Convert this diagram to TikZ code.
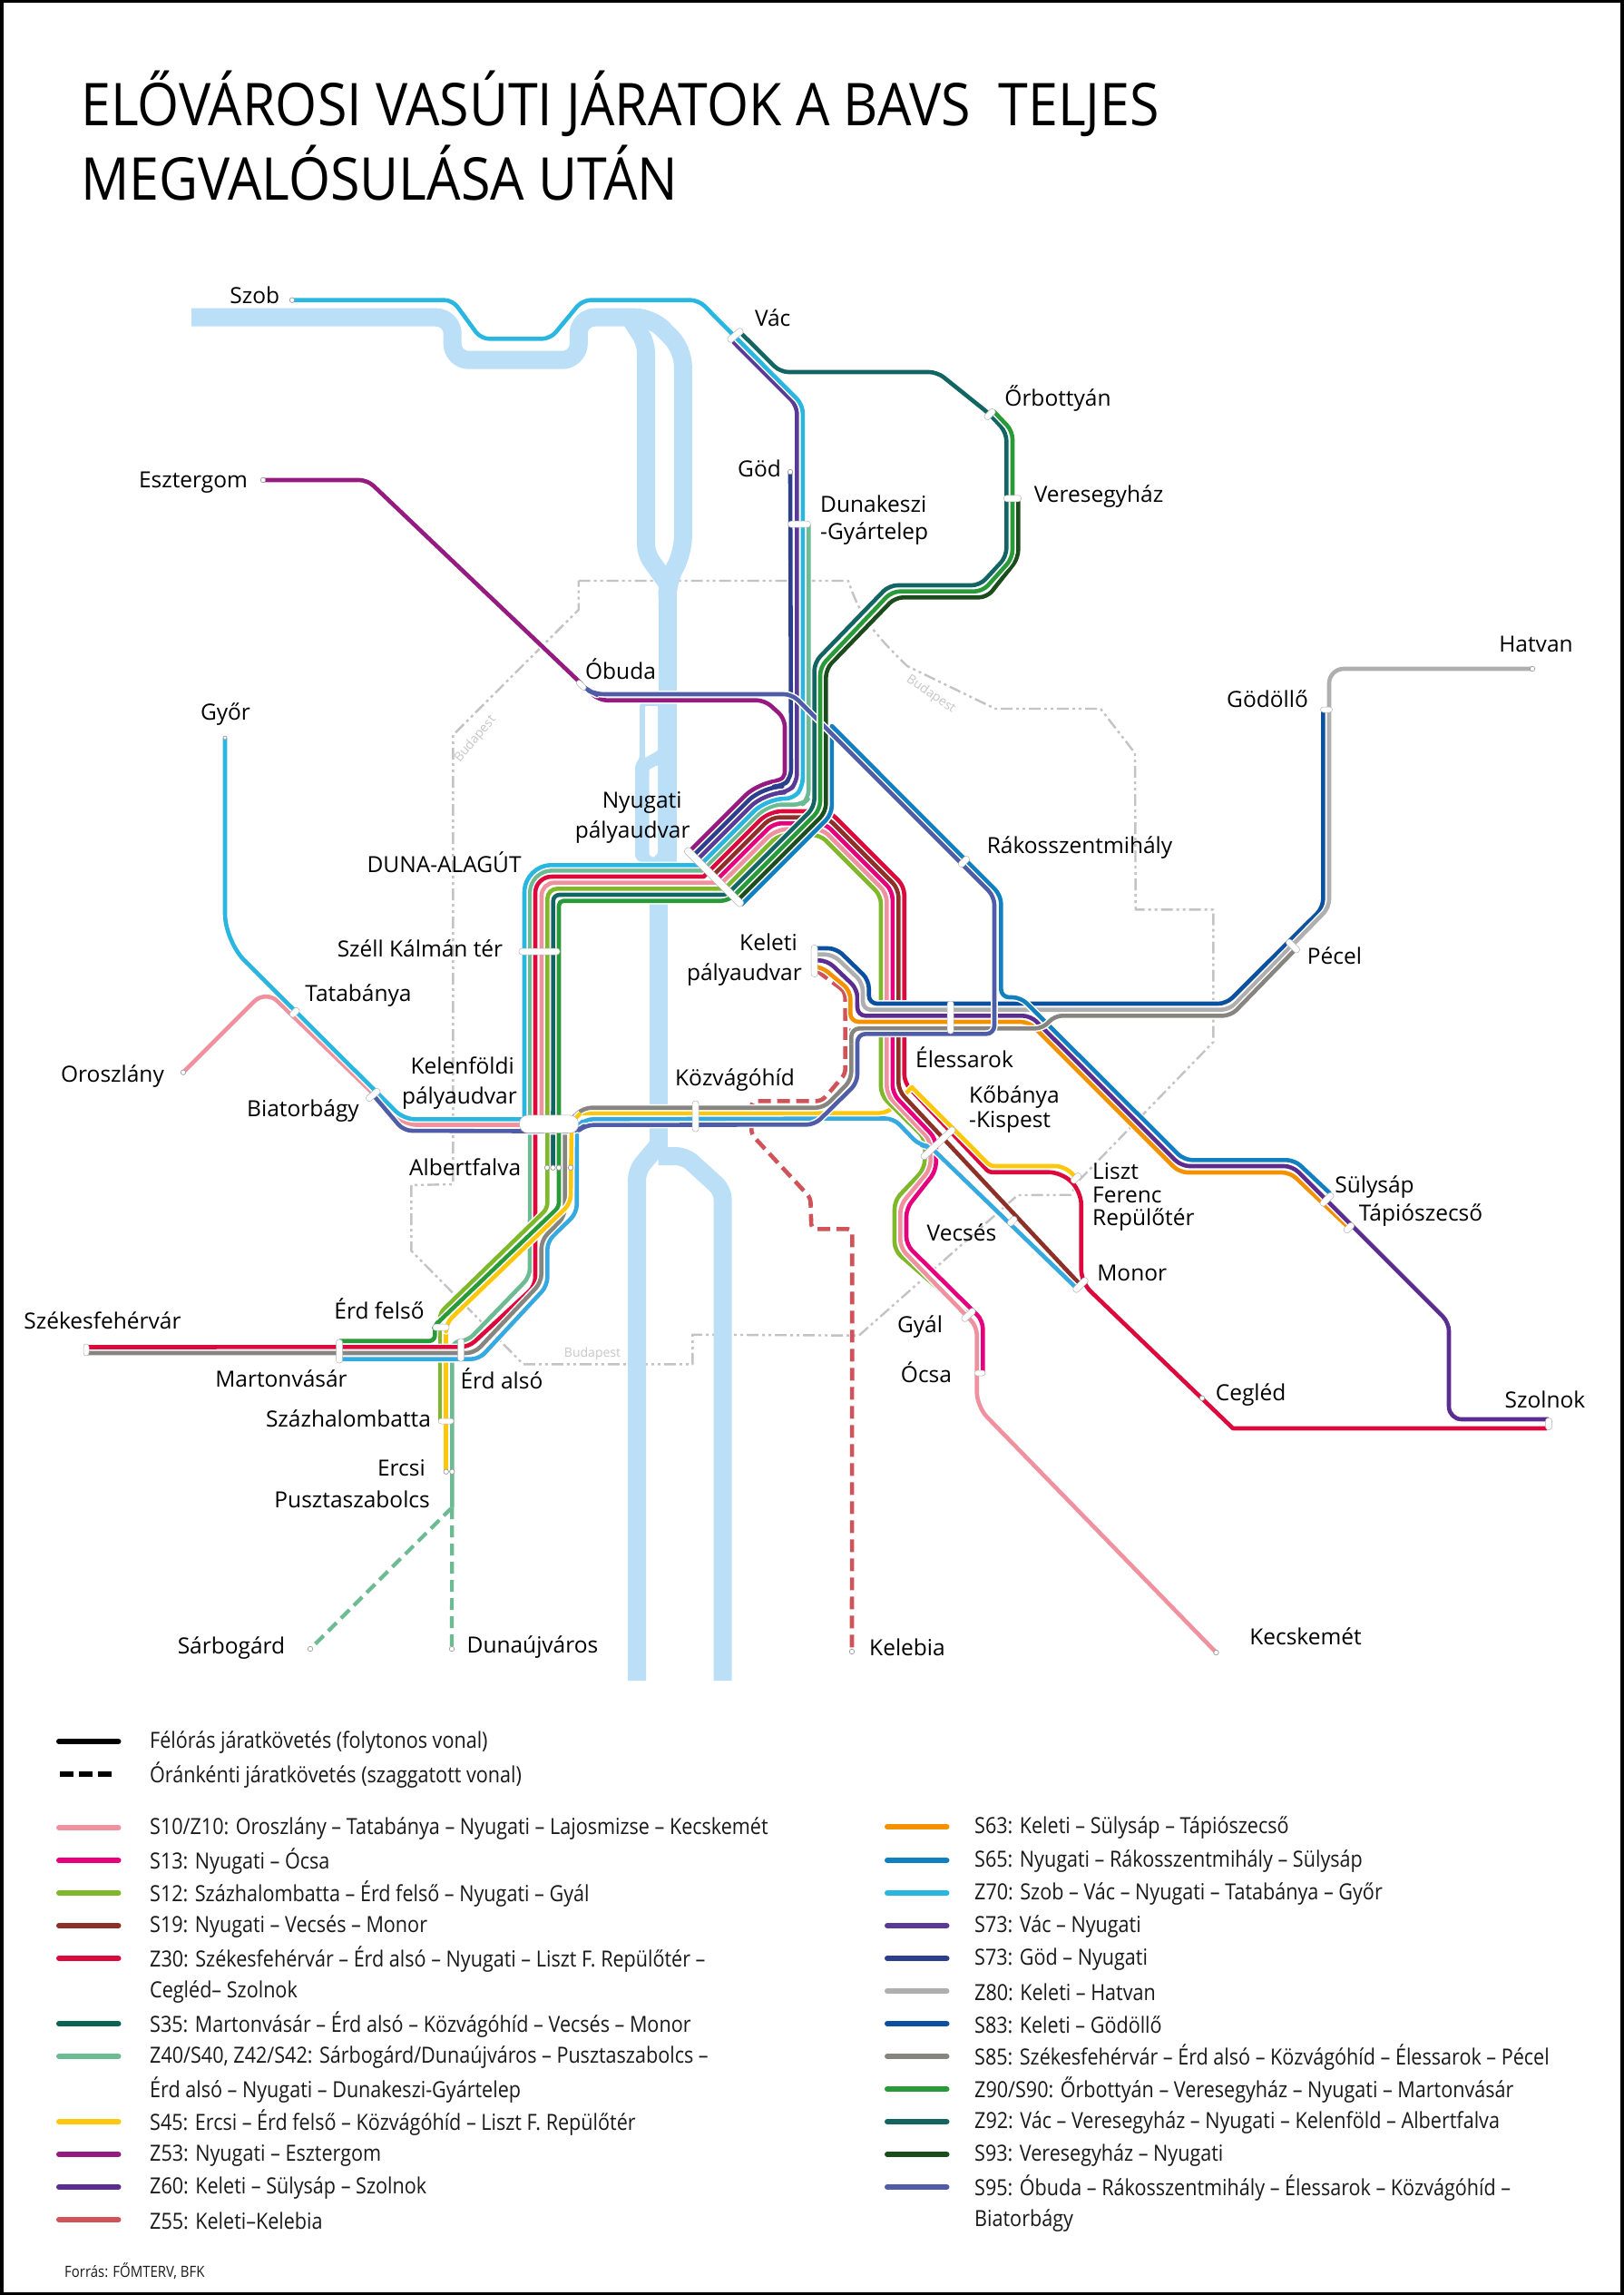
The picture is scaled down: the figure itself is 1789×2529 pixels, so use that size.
\documentclass[tikz,border=0pt]{standalone}
\usepackage{fontspec}
\setmainfont{Open Sans}
\newfontfamily\lblfont[FakeStretch=1.0]{Open Sans}
\newfontfamily\lgfont[FakeStretch=.88]{Open Sans}
\newfontfamily\ttlfont[FakeStretch=.91]{Open Sans}
\definecolor{cS10}{HTML}{F0919F}
\definecolor{cS13}{HTML}{E6007E}
\definecolor{cS12}{HTML}{7FB92B}
\definecolor{cS19}{HTML}{8C3028}
\definecolor{cZ30}{HTML}{DC0A3C}
\definecolor{cS35}{HTML}{0B6354}
\definecolor{cZ40}{HTML}{6DBB92}
\definecolor{cS45}{HTML}{FDC70C}
\definecolor{cZ53}{HTML}{951B81}
\definecolor{cZ60}{HTML}{5C2D91}
\definecolor{cZ55}{HTML}{D1535A}
\definecolor{cS63}{HTML}{F39200}
\definecolor{cS65}{HTML}{1180C0}
\definecolor{cZ70}{HTML}{29B6E0}
\definecolor{cS73}{HTML}{5B3A97}
\definecolor{cG73}{HTML}{2B3F8C}
\definecolor{cZ80}{HTML}{AFAFAF}
\definecolor{cS83}{HTML}{0C50A0}
\definecolor{cS85}{HTML}{868580}
\definecolor{cZ90}{HTML}{289B38}
\definecolor{cZ92}{HTML}{136563}
\definecolor{cS93}{HTML}{1A4D1B}
\definecolor{cS95}{HTML}{4F5CA8}
\definecolor{cSky}{HTML}{36A9E1}
\definecolor{cRiver}{HTML}{BBDFF7}
\definecolor{cBound}{HTML}{C3C3C3}
\pgfdeclarelayer{base}
\pgfdeclarelayer{rail}
\pgfsetlayers{base,rail,main}
\tikzset{
  rt/.style={line width=4.6,line join=round,rounded corners=9},
  casing/.style={rt,draw=white,line width=7.6},
  dashz/.style={line width=4.6,line join=round,rounded corners=5,draw=cZ55,dash pattern=on 14 off 7},
  dashg/.style={line width=4.2,draw=cZ40,dash pattern=on 13 off 7},
  river/.style={line width=20,draw=cRiver,line join=round},
  bound/.style={line width=2.4,draw=cBound,line join=round,dash pattern=on 13 off 4 on 3 off 4 on 3 off 4},
  bpt/.style={text=black!22,font=\lblfont\fontsize{14}{17}\selectfont,inner sep=0},
  barst/.style 2 args={rectangle,rounded corners=3,fill=white,draw=black!30,line width=.5,inner sep=0,minimum width=#1,minimum height=#2},
  dotst/.style={circle,fill=white,draw=black!40,line width=.7,inner sep=0,minimum size=5.5},
  lbl/.style={font=\lblfont\fontsize{24.5}{33}\selectfont,inner sep=0,text=black},
  lgt/.style={font=\lgfont\fontsize{24.5}{28}\selectfont,inner sep=0,anchor=west,text=black!90,yshift=-1.5},
  lgl/.style={line width=6,line cap=round},
  ttl/.style={font=\ttlfont\fontsize{65}{80}\selectfont,inner sep=0,anchor=base west,text=black}
}
\newcommand{\rte}[2]{\draw[casing] #2;\draw[rt,draw=#1] #2;}
\newcommand{\lgitem}[6]{\coordinate (#1a) at (#3,#5);\coordinate (#1b) at (#3+65.5,#5);\draw[lgl,draw=#2] (#1a) -- (#1b);\node[lgt] (#1t) at (#6,#5) {#4};}
\begin{document}
\begin{tikzpicture}[x=1pt,y=-1pt]
\useasboundingbox (0,0) rectangle (1789,2529);
% stations
\node[dotst] (szob) at (322,330.7) {};
\node[dotst] (esztergom) at (290,529) {};
\node[barst={20}{7},rotate=40] (vac) at (810.5,369.5) {};
\node[barst={14}{7},rotate=45] (orbottyan) at (1091,456.5) {};
\node[dotst] (god) at (871,520) {};
\node[barst={24.5}{7}] (dunakeszi) at (881,577.7) {};
\node[barst={19}{7}] (veresegyhaz) at (1116,549.3) {};
\node[barst={13}{6},rotate=-45] (obuda) at (640.7,755) {};
\node[barst={88}{8},rotate=-45] (nyugati) at (787,966.5) {};
\node[barst={45}{7}] (szell) at (594.5,1048.5) {};
\node[barst={65}{19.5},rounded corners=9] (kelenfold) at (605,1238.7) {};
\node[dotst] (albA) at (603,1286.7) {};
\node[dotst] (albB) at (609.5,1286.7) {};
\node[dotst] (albC) at (616,1286.7) {};
\node[dotst] (albD) at (629,1286.7) {};
\node[barst={18}{7},rotate=40] (biatorbagy) at (411.2,1206.5) {};
\node[barst={12}{7},rotate=45] (tatabanya) at (324.7,1115.7) {};
\node[barst={7}{35}] (keleti) at (897.7,1059) {};
\node[barst={7}{36}] (elessarok) at (1047.7,1121) {};
\node[barst={7}{34}] (kozvago) at (766.7,1230) {};
\node[barst={49}{7},rotate=43] (kobanya) at (1034,1259.7) {};
\node[barst={13}{7},rotate=45] (liszt) at (1186,1298.3) {};
\node[barst={12}{7},rotate=45] (vecses) at (1115.7,1345.7) {};
\node[barst={20}{7},rotate=45] (monor) at (1191,1416) {};
\node[barst={18}{7},rotate=43] (gyal) at (1067.5,1449) {};
\node[barst={12}{6}] (ocsa) at (1080,1513) {};
\node[dotst] (cegled) at (1325,1540.7) {};
\node[barst={18}{7},rotate=45] (sulysap) at (1462.5,1321.7) {};
\node[barst={13}{7},rotate=45] (tapio) at (1486.8,1353) {};
\node[barst={18}{7},rotate=-45] (pecel) at (1425,1042.5) {};
\node[barst={13}{6}] (godollo) at (1462,782) {};
\node[dotst] (hatvan) at (1689,737) {};
\node[barst={14}{7},rotate=45] (rakos) at (1062.5,949.5) {};
\node[barst={6}{13}] (szekes) at (95,1487.5) {};
\node[barst={7}{26}] (marton) at (374,1489) {};
\node[barst={18}{7}] (erdfelso) at (486,1462.7) {};
\node[barst={7}{25}] (erdalso) at (508,1487.5) {};
\node[barst={17}{6}] (szazhalom) at (491.7,1566) {};
\node[dotst] (ercsi) at (491.7,1621.7) {};
\node[dotst] (puszta) at (498.3,1621.7) {};
\node[dotst] (sarbogard) at (342,1817) {};
\node[dotst] (dunaujvaros) at (498,1817) {};
\node[dotst] (kelebia) at (939,1820) {};
\node[dotst] (kecskemet) at (1340.5,1821) {};
\node[barst={7}{13}] (szolnok) at (1707,1569) {};
\node[dotst] (oroszlany) at (202,1181.7) {};
\node[dotst,minimum size=4] (gyor) at (248,813) {};
\coordinate (forkG) at (498.3,1661);
% map base
\begin{pgfonlayer}{base}
\fill[white] (0,0) rectangle (1789,2529);
\draw[black,line width=7] (0,0) rectangle (1789,2529);
\draw[bound] (637.7,640) -- (935,640) .. controls (948,680) and (965,700) .. (1000,734) -- (1097,781) -- (1213,781) -- (1251,830) -- (1251.7,1002.3) -- (1337.3,1002.3) -- (1337.3,1148.3) -- (1190,1300) -- (1180,1316.7) -- (1121.7,1317) -- (946.7,1471.7) -- (763.3,1470.7) -- (763.3,1503.3) -- (576.7,1503.3) -- (453.3,1378.3) -- (453.3,1306) -- (499.3,1305) -- (499.3,810) -- (637.7,672) -- cycle;
\draw[river,rounded corners=18] (211,349.7) -- (498.7,349.7) -- (498.7,396.7) -- (637.8,396.7) -- (637.8,349.7) -- (718,349.7) -- (752.8,385) -- (752.8,610) -- (735.6,640) -- (735.6,650);
\draw[river,rounded corners=10] (694,350) -- (712,378) -- (712,610) -- (735.6,643);
\draw[river] (735.6,640) -- (735.6,950);
\fill[cRiver,rounded corners=3] (730,772) -- (705,775) -- (705,835) -- (700,843) -- (700,945) -- (705,950) -- (730,950) -- cycle;
\fill[white,rounded corners=1] (711,778) -- (725,778) -- (725,827) -- (711,835) -- cycle;
\fill[white,rounded corners=1] (715.7,848) -- (725,843) -- (725,940) -- (720,945) -- (715.7,942) -- cycle;
\draw[river] (725.5,996) -- (725.5,1272);
\draw[river,rounded corners=10] (725.5,1262) -- (702,1290) -- (702,1852);
\draw[river,rounded corners=10] (725.5,1274) -- (755,1274) -- (796.7,1312) -- (796.7,1852);
\node[bpt,rotate=50] (bpA) at (524,814.6) {Budapest};
\node[bpt,rotate=-35] (bpB) at (1026,765) {Budapest};
\node[bpt] (bpC) at (653,1492) {Budapest};
\end{pgfonlayer}
% routes
\begin{pgfonlayer}{rail}
\draw[dashz] (keleti.center) ++(3,11) -- (928,1090) -- (931.7,1095) -- (931.7,1183) -- (911.7,1206.7) -- (905,1213.3) -- (828.3,1213.3) -- (828.3,1250) -- (893.3,1320) -- (894.3,1354.3) -- (939.3,1354.3) -- (kelebia.center);
\draw[dashg] (forkG) -- (dunaujvaros.center);
\draw[dashg] (forkG) -- (sarbogard.center);
% verticals under the Erd horizontals
\rte{cS45}{(491.7,1462) -- (ercsi.center)}
\rte{cS12}{(485,1462) -- (485,1566)}
\rte{cZ40}{(891.2,577.7) -- (891.2,880) -- (884,886.7) [rounded corners=14] -- (847,886.7) [sharp corners] -- (774.7,959.3) [rounded corners=24] -- (584.3,959.3) [rounded corners=9] -- (584,1406.7) -- (515,1478) -- (498.3,1478) -- (forkG)}
% Z30
\rte{cZ30}{(szekes.center) ++(0,-3) -- (516.7,1484.3) -- (590,1416.7) [rounded corners=18] -- (590,966) [sharp corners] -- (775.7,966) [rounded corners=14] -- (847.7,894) [rounded corners=9] -- (914,894) -- (996.7,976.7) -- (996.7,1193) [rounded corners=3] -- (1090,1291.7) [rounded corners=14] -- (1170,1291.7) -- (1191.7,1313) -- (1191.7,1413) [sharp corners] -- (1359,1574) -- (1705,1574)}
\rte{cS45}{(640,1226.7) -- (978,1226.7) [sharp corners] -- (1005,1198) [rounded corners=4] -- (1091.7,1285) [rounded corners=12] -- (1175,1285) -- (liszt.center)}
% S12 east, S10, S13, S19
\rte{cS12}{(798.7,979.3) -- (858,920) -- (904,920) -- (971,987) -- (971,1206.7) -- (1020,1255) -- (1019,1288) -- (986,1323) -- (986,1378) -- (gyal.center)}
\rte{cS10}{(oroszlany.center) [rounded corners=18] -- (292.9,1090.8) [rounded corners=12] -- (447,1239.5) [sharp corners] -- (597,1239.5) [rounded corners=14] -- (597,972.7) [sharp corners] -- (796,972.7) [rounded corners=13] -- (855.3,913.6) [rounded corners=9] -- (906.6,913.6) -- (977.4,984.4) -- (977.4,1206) -- (1025.7,1256.7) -- (1025.7,1288) -- (992.3,1328) -- (992.3,1375) -- (1076.7,1461.7) [rounded corners=16] -- (1076.7,1550) -- (kecskemet.center)}
\rte{cS13}{(790,969.5) -- (852.6,907.2) -- (909.2,907.2) -- (983.8,981.8) -- (983.8,1205) -- (1031.7,1255) -- (1031.7,1290) -- (999,1331.7) -- (999,1371.7) -- (1083.3,1455) -- (1083.3,1513)}
\rte{cS19}{(785.6,965) -- (850,900.7) -- (911.7,900.7) -- (990.3,979.3) -- (990.3,1201.7) -- (monor.center)}
% S35 line as drawn in light blue
\rte{cSky}{(marton.center) ++(0,8.7) -- (528,1497.7) -- (603.3,1416.7) -- (603.3,1368) -- (635.7,1336.7) -- (635.7,1242) -- (645,1233.3) -- (985,1232.5) -- (1013,1261.7) -- (1025,1263.3) -- (1185,1418)}
% upper Nyugati group
\rte{cZ53}{(esztergom.center) -- (405,529) -- (660,771.7) -- (843,771.7) -- (865,791.7) -- (865,860) [rounded corners=24] -- (838,860) [rounded corners=9] -- (759,939)}
\rte{cG73}{(god.center) -- (872,857) -- (862,866.7) [rounded corners=22] -- (840.3,866.7) [rounded corners=9] -- (763.7,943.3)}
\rte{cS73}{(vac.center) ++(-2.5,7) -- (878.4,447) -- (878.4,862) -- (868,873.3) [rounded corners=22] -- (842.7,873.3) [rounded corners=9] -- (768,948)}
\rte{cZ70}{(szob.center) -- (498.8,330.7) -- (530,373.3) -- (606.6,373.3) -- (642,330.7) -- (770,330.7) -- (884.8,446) -- (884.8,866.7) -- (875,880) [rounded corners=20] -- (845,880) [sharp corners] -- (771.7,953.3) [rounded corners=30] -- (578,953.3) [sharp corners] -- (578,1233.3) [rounded corners=12] -- (445,1233.3) [rounded corners=30] -- (248,1037) -- (gyor.center)}
% greens
\rte{cZ92}{(818,368.3) -- (860,410) -- (1033,410) -- (orbottyan.center) -- (1109.3,476.7) -- (1109.3,613.3) -- (1080,645) -- (980,645) -- (897.6,730) -- (897.6,889.4) [sharp corners] -- (801,986) [rounded corners=7] -- (609.7,986) -- (albB.center)}
\rte{cS93}{(veresegyhaz.center) ++(6.3,0) -- (1122.3,615) -- (1088,658.3) -- (986.7,658.3) -- (910.4,737) -- (910.4,894.6) -- (812.7,992.3)}
\rte{cS85}{(szekes.center) ++(0,3.5) -- (523,1491) -- (596.7,1413) -- (596.7,1366.7) -- (622.7,1340) -- (622.7,1240) -- (643,1220.7) -- (908,1220.7) -- (938.3,1190) -- (938.3,1133.3)}
% Keleti group
\rte{cS63}{(keleti.center) ++(0,6) -- (905,1065) -- (937.3,1091.7) -- (937.3,1126) -- (1134,1126) -- (1300,1292) -- (1422,1292) -- (tapio.center)}
\rte{cZ60}{(keleti.center) ++(0,-0.7) -- (911.7,1058.3) -- (945,1090) -- (945,1119.3) -- (1136,1119.3) -- (1302,1285) -- (1424.5,1285) -- (1597,1457.5) [rounded corners=14] -- (1597,1564) [sharp corners] -- (1707,1564)}
\rte{cS83}{(keleti.center) ++(0,-14) -- (921.7,1045) -- (957.7,1080) -- (957.7,1106) -- (1351.7,1106) -- (1458.3,1000) -- (1458.3,782)}
\rte{cZ80}{(keleti.center) ++(0,-7.3) -- (918,1051.7) -- (951,1083) -- (951,1112.7) -- (1355,1112.7) -- (1465,1000) [rounded corners=16] -- (1465,737) -- (hatvan.center)}
\rte{cS65}{(817,997) -- (916.8,897.2) [sharp corners] -- (916.8,800) [rounded corners=9] -- (1103.3,986.7) -- (1103.3,1099) -- (1125,1099) -- (1305,1278.3) -- (1426.8,1278.3) -- (1466,1315)}
\rte{cS85}{(938.3,1150) -- (938.3,1133.3) -- (1150,1133.3) -- (1161.7,1119.3) -- (1356.7,1119.3) -- (1427,1047)}
\rte{cS95}{(obuda.center) -- (650,761.7) -- (656.7,765) -- (873,765) -- (1096,988) -- (1096,1139.3) -- (945,1139.3) -- (945,1193) -- (898,1239.3) -- (645,1239.7) -- (636.7,1246.7) -- (445,1246) -- (biatorbagy.center)}
% late: diagonals above the Z30 and Z40
\rte{cS12}{(798.7,979.3) [rounded corners=11] -- (603.3,979.3) [rounded corners=6] -- (603.3,1331.7) -- (485,1446.7) -- (485,1462)}
\rte{cZ90}{(orbottyan.center) ++(4,-3.5) -- (1116,475) -- (1116,615) -- (1083,651.7) -- (983,651.7) -- (904,735) -- (904,892) -- (803.3,992.7) [rounded corners=5] -- (616,992.7) -- (616,1330) [rounded corners=6] -- (481.7,1458.3) -- (479.3,1462) -- (479.3,1477.7) -- (374,1477.7)}
\rte{cS45}{(640,1226.7) -- (630,1236) -- (629,1326) -- (491.7,1458) -- (491.7,1462)}
\end{pgfonlayer}
% labels
\node[lbl] (t1) at (280.7,325.8) {Szob};
\node[lbl] (t2) at (851.7,350) {Vác};
\node[lbl] (t3) at (1166,438.7) {Őrbottyán};
\node[lbl] (t4) at (1211,547) {Veresegyház};
\node[lbl] (t5) at (213,532) {Esztergom};
\node[lbl] (t6) at (837,516) {Göd};
\node[lbl,anchor=west] (t7) at (904,555) {Dunakeszi};
\node[lbl,anchor=west] (t7b) at (904,588) {-Gyártelep};
\node[lbl] (t8) at (684,737) {Óbuda};
\node[lbl] (t9) at (1693,710) {Hatvan};
\node[lbl] (t10) at (1397,770) {Gödöllő};
\node[lbl] (t11) at (248.5,787) {Győr};
\node[lbl,align=right,anchor=east] (t12) at (760.7,901) {Nyugati\hspace*{9pt}\\pályaudvar};
\node[lbl] (t13) at (489.6,950) {DUNA-ALAGÚT};
\node[lbl] (t14) at (1190,934) {Rákosszentmihály};
\node[lbl] (t15) at (463,1045) {Széll Kálmán tér};
\node[lbl,align=right,anchor=east] (t16) at (884,1058) {Keleti\hspace*{5pt}\\pályaudvar};
\node[lbl] (t17) at (395,1097) {Tatabánya};
\node[lbl] (t18) at (1471,1053) {Pécel};
\node[lbl] (t19) at (1063,1165) {Élessarok};
\node[lbl] (t20) at (124,1186) {Oroszlány};
\node[lbl] (t21) at (334,1224) {Biatorbágy};
\node[lbl,align=right,anchor=east] (t22) at (570,1194) {Kelenföldi\hspace*{3pt}\\pályaudvar};
\node[lbl] (t23) at (810,1190) {Közvágóhíd};
\node[lbl,anchor=west] (t24) at (1068,1209) {Kőbánya};
\node[lbl,anchor=west] (t24b) at (1068,1236) {-Kispest};
\node[lbl,anchor=west] (t25) at (1204,1290.7) {Liszt};
\node[lbl,anchor=west] (t25b) at (1204,1317) {Ferenc};
\node[lbl,anchor=west] (t25c) at (1204,1344) {Repülőtér};
\node[lbl] (t26) at (512.7,1286.7) {Albertfalva};
\node[lbl] (t27) at (1060,1358) {Vecsés};
\node[lbl] (t28) at (1247.7,1403) {Monor};
\node[lbl] (t29) at (1515,1308) {Sülysáp};
\node[lbl] (t30) at (1566,1339) {Tápiószecső};
\node[lbl] (t31) at (1014,1462) {Gyál};
\node[lbl] (t32) at (1021,1511.7) {Ócsa};
\node[lbl] (t33) at (1378.6,1536.7) {Cegléd};
\node[lbl] (t34) at (1703,1542) {Szolnok};
\node[lbl] (t35) at (113,1455) {Székesfehérvár};
\node[lbl] (t36) at (418,1442) {Érd felső};
\node[lbl] (t37) at (310,1519) {Martonvásár};
\node[lbl] (t38) at (553,1519) {Érd alsó};
\node[lbl] (t39) at (384,1563) {Százhalombatta};
\node[lbl,anchor=east] (t40) at (469,1618) {Ercsi};
\node[lbl,anchor=east] (t41) at (474,1652) {Pusztaszabolcs};
\node[lbl] (t42) at (255,1816) {Sárbogárd};
\node[lbl] (t43) at (587,1815) {Dunaújváros};
\node[lbl] (t44) at (1000,1815) {Kelebia};
\node[lbl] (t45) at (1439,1803) {Kecskemét};
% title
\node[ttl] (title1) at (89,138.3) {ELŐVÁROSI VASÚTI JÁRATOK A BAVS\ \ TELJES};
\node[ttl] (title2) at (89,220) {MEGVALÓSULÁSA UTÁN};
% legend
\lgitem{solid}{black}{65}{Félórás járatkövetés (folytonos vonal)}{1919}{165}
\coordinate (dasha) at (66,1954.6);\coordinate (dashb) at (123,1954.6);
\draw[line width=6,black,dash pattern=on 15 off 6] (dasha) -- (dashb);
\node[lgt] (dasht) at (165,1954.6) {Óránkénti járatkövetés (szaggatott vonal)};
\lgitem{a}{cS10}{65}{S10/Z10: Oroszlány – Tatabánya – Nyugati – Lajosmizse – Kecskemét}{2014}{165}
\lgitem{b}{cS13}{65}{S13: Nyugati – Ócsa}{2050}{165}
\lgitem{c}{cS12}{65}{S12: Százhalombatta – Érd felső – Nyugati – Gyál}{2086}{165}
\lgitem{d}{cS19}{65}{S19: Nyugati – Vecsés – Monor}{2122}{165}
\lgitem{e}{cZ30}{65}{Z30: Székesfehérvár – Érd alsó – Nyugati – Liszt F. Repülőtér –}{2158}{165}
\node[lgt] (et) at (165,2194) {Cegléd– Szolnok};
\lgitem{f}{cS35}{65}{S35: Martonvásár – Érd alsó – Közvágóhíd – Vecsés – Monor}{2230}{165}
\lgitem{g}{cZ40}{65}{Z40/S40, Z42/S42: Sárbogárd/Dunaújváros – Pusztaszabolcs –}{2266}{165}
\node[lgt] (gt) at (165,2302) {Érd alsó – Nyugati – Dunakeszi-Gyártelep};
\lgitem{h}{cS45}{65}{S45: Ercsi – Érd felső – Közvágóhíd – Liszt F. Repülőtér}{2338}{165}
\lgitem{i}{cZ53}{65}{Z53: Nyugati – Esztergom}{2374}{165}
\lgitem{j}{cZ60}{65}{Z60: Keleti – Sülysáp – Szolnok}{2410}{165}
\lgitem{k}{cZ55}{65}{Z55: Keleti–Kelebia}{2446}{165}
\lgitem{m}{cS63}{978}{S63: Keleti – Sülysáp – Tápiószecső}{2013}{1074}
\lgitem{n}{cS65}{978}{S65: Nyugati – Rákosszentmihály – Sülysáp}{2050}{1074}
\lgitem{o}{cZ70}{978}{Z70: Szob – Vác – Nyugati – Tatabánya – Győr}{2086}{1074}
\lgitem{p}{cS73}{978}{S73: Vác – Nyugati}{2122}{1074}
\lgitem{q}{cG73}{978}{S73: Göd – Nyugati}{2158}{1074}
\lgitem{r}{cZ80}{978}{Z80: Keleti – Hatvan}{2194}{1074}
\lgitem{s}{cS83}{978}{S83: Keleti – Gödöllő}{2230}{1074}
\lgitem{u}{cS85}{978}{S85: Székesfehérvár – Érd alsó – Közvágóhíd – Élessarok – Pécel}{2266}{1074}
\lgitem{v}{cZ90}{978}{Z90/S90: Őrbottyán – Veresegyház – Nyugati – Martonvásár}{2302}{1074}
\lgitem{w}{cZ92}{978}{Z92: Vác – Veresegyház – Nyugati – Kelenföld – Albertfalva}{2338}{1074}
\lgitem{x}{cS93}{978}{S93: Veresegyház – Nyugati}{2374}{1074}
\lgitem{y}{cS95}{978}{S95: Óbuda – Rákosszentmihály – Élessarok – Közvágóhíd –}{2410}{1074}
\node[lgt] (yt) at (1074,2446) {Biatorbágy};
\node[lgt,font=\lgfont\fontsize{17}{20}\selectfont] (src) at (71,2501) {Forrás: FŐMTERV, BFK};
\end{tikzpicture}
\end{document}
